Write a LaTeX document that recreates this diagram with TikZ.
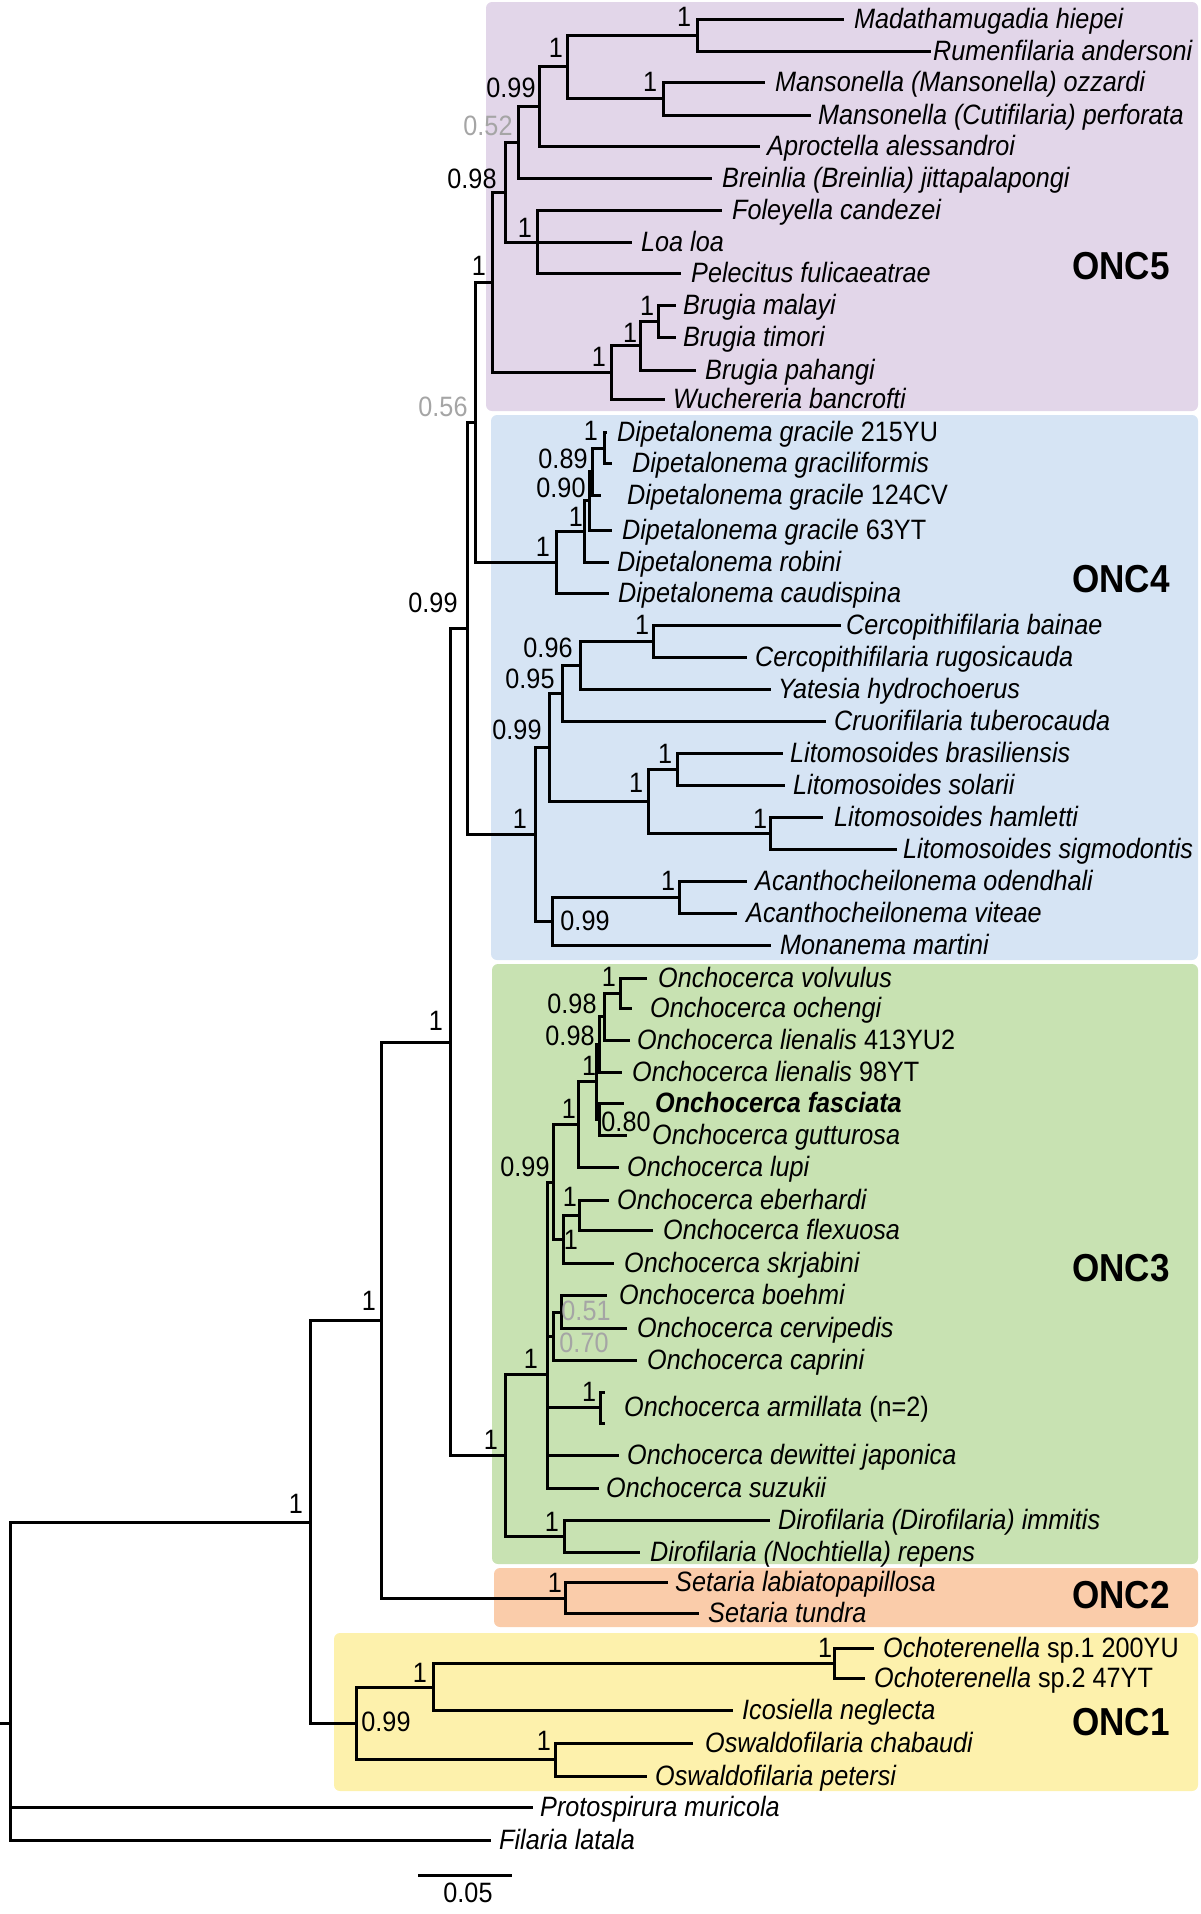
\documentclass[tikz,border=0pt]{standalone}
\usepackage{fontspec}
\setmainfont{Liberation Sans}[FakeStretch=0.9]
\usetikzlibrary{positioning}

\definecolor{oncfive}{RGB}{226,214,233}
\definecolor{oncfour}{RGB}{214,228,244}
\definecolor{oncthree}{RGB}{200,226,178}
\definecolor{onctwo}{RGB}{250,204,170}
\definecolor{oncone}{RGB}{253,241,172}
\definecolor{weakgrey}{RGB}{165,165,165}

\tikzset{
  branch/.style={line width=3pt},
  taxon/.style={anchor=base west, inner sep=0pt, yshift=-9pt, font=\fontsize{28}{30}\selectfont\itshape},
  support/.style={inner sep=0pt, font=\fontsize{28}{30}\selectfont},
  weak/.style={support, text=weakgrey},
  clade/.style={rounded corners=6pt},
  cladename/.style={anchor=east, inner sep=0pt, font=\fontsize{39}{40}\selectfont\bfseries}
}

\begin{document}
\begin{tikzpicture}[x=1pt, y=-1pt]
\useasboundingbox (0,0) rectangle (1200,1914);

% Clade boxes
\fill[oncfive, clade] (486,2) rectangle (1198,411);
\fill[oncfour, clade] (491,415) rectangle (1198,960);
\fill[oncthree, clade] (492,964) rectangle (1198,1564);
\fill[onctwo, clade] (494,1568) rectangle (1198,1627);
\fill[oncone, clade] (334,1633) rectangle (1198,1791);

\node[cladename] (onc5) at (1170,266) {ONC5};
\node[cladename] (onc4) at (1170,579) {ONC4};
\node[cladename] (onc3) at (1170,1268) {ONC3};
\node[cladename] (onc2) at (1170,1595) {ONC2};
\node[cladename] (onc1) at (1170,1722) {ONC1};

% ONC5 taxa
\coordinate (madat) at (844,19);  \node[taxon] (madat-t) at (854,19) {Madathamugadia hiepei};
\coordinate (rumen) at (931,51);  \node[taxon] (rumen-t) at (933,51) {Rumenfilaria andersoni};
\coordinate (mozz) at (765,82);   \node[taxon] (mozz-t) at (775,82) {Mansonella (Mansonella) ozzardi};
\coordinate (mperf) at (811,115); \node[taxon] (mperf-t) at (818,115) {Mansonella (Cutifilaria) perforata};
\coordinate (aproc) at (760,146); \node[taxon] (aproc-t) at (767,146) {Aproctella alessandroi};
\coordinate (brein) at (712,178); \node[taxon] (brein-t) at (722,178) {Breinlia (Breinlia) jittapalapongi};
\coordinate (foley) at (722,210); \node[taxon] (foley-t) at (732,210) {Foleyella candezei};
\coordinate (loa) at (632,242);   \node[taxon] (loa-t) at (641,242) {Loa loa};
\coordinate (pelec) at (681,273); \node[taxon] (pelec-t) at (691,273) {Pelecitus fulicaeatrae};
\coordinate (bmal) at (676,305);  \node[taxon] (bmal-t) at (683,305) {Brugia malayi};
\coordinate (btim) at (676,337);  \node[taxon] (btim-t) at (683,337) {Brugia timori};
\coordinate (bpah) at (696,370);  \node[taxon] (bpah-t) at (705,370) {Brugia pahangi};
\coordinate (wuch) at (665,399);  \node[taxon] (wuch-t) at (673,399) {Wuchereria bancrofti};

% ONC4 taxa
\coordinate (dg215) at (607,432); \node[taxon] (dg215-t) at (617,432) {Dipetalonema gracile \textup{215YU}};
\coordinate (dgfm) at (612,463);  \node[taxon] (dgfm-t) at (632,463) {Dipetalonema graciliformis};
\coordinate (dg124) at (601,495); \node[taxon] (dg124-t) at (627,495) {Dipetalonema gracile \textup{124CV}};
\coordinate (dg63) at (612,530);  \node[taxon] (dg63-t) at (622,530) {Dipetalonema gracile \textup{63YT}};
\coordinate (drob) at (609,562);  \node[taxon] (drob-t) at (617,562) {Dipetalonema robini};
\coordinate (dcau) at (609,593);  \node[taxon] (dcau-t) at (618,593) {Dipetalonema caudispina};
\coordinate (cbai) at (841,625);  \node[taxon] (cbai-t) at (846,625) {Cercopithifilaria bainae};
\coordinate (crug) at (747,657);  \node[taxon] (crug-t) at (755,657) {Cercopithifilaria rugosicauda};
\coordinate (yhyd) at (771,689);  \node[taxon] (yhyd-t) at (778,689) {Yatesia hydrochoerus};
\coordinate (ctub) at (826,721);  \node[taxon] (ctub-t) at (834,721) {Cruorifilaria tuberocauda};
\coordinate (lbra) at (783,753);  \node[taxon] (lbra-t) at (790,753) {Litomosoides brasiliensis};
\coordinate (lsol) at (785,785);  \node[taxon] (lsol-t) at (793,785) {Litomosoides solarii};
\coordinate (lham) at (823,817);  \node[taxon] (lham-t) at (834,817) {Litomosoides hamletti};
\coordinate (lsig) at (897,849);  \node[taxon] (lsig-t) at (903,849) {Litomosoides sigmodontis};
\coordinate (aode) at (747,881);  \node[taxon] (aode-t) at (755,881) {Acanthocheilonema odendhali};
\coordinate (avit) at (737,913);  \node[taxon] (avit-t) at (746,913) {Acanthocheilonema viteae};
\coordinate (mmar) at (771,945);  \node[taxon] (mmar-t) at (780,945) {Monanema martini};

% ONC3 taxa
\coordinate (ovol) at (647,978);   \node[taxon] (ovol-t) at (658,978) {Onchocerca volvulus};
\coordinate (ooch) at (632,1008);  \node[taxon] (ooch-t) at (650,1008) {Onchocerca ochengi};
\coordinate (olie4) at (630,1040); \node[taxon] (olie4-t) at (637,1040) {Onchocerca lienalis \textup{413YU2}};
\coordinate (olie9) at (622,1072); \node[taxon] (olie9-t) at (632,1072) {Onchocerca lienalis \textup{98YT}};
\coordinate (ofas) at (624,1103);  \node[taxon] (ofas-t) at (655,1103) {\bfseries Onchocerca fasciata};
\coordinate (ogut) at (627,1135);  \node[taxon] (ogut-t) at (652,1135) {Onchocerca gutturosa};
\coordinate (olup) at (619,1167);  \node[taxon] (olup-t) at (627,1167) {Onchocerca lupi};
\coordinate (oebe) at (609,1200);  \node[taxon] (oebe-t) at (617,1200) {Onchocerca eberhardi};
\coordinate (oflx) at (653,1230);  \node[taxon] (oflx-t) at (663,1230) {Onchocerca flexuosa};
\coordinate (oskr) at (614,1263);  \node[taxon] (oskr-t) at (624,1263) {Onchocerca skrjabini};
\coordinate (oboe) at (607,1295);  \node[taxon] (oboe-t) at (619,1295) {Onchocerca boehmi};
\coordinate (ocer) at (627,1328);  \node[taxon] (ocer-t) at (637,1328) {Onchocerca cervipedis};
\coordinate (ocap) at (637,1360);  \node[taxon] (ocap-t) at (647,1360) {Onchocerca caprini};
\coordinate (oarma) at (605,1392);
\coordinate (oarmb) at (605,1423); \node[taxon] (oarm-t) at (624,1407) {Onchocerca armillata \textup{(n=2)}};
\coordinate (odew) at (619,1455);  \node[taxon] (odew-t) at (627,1455) {Onchocerca dewittei japonica};
\coordinate (osuz) at (599,1488);  \node[taxon] (osuz-t) at (606,1488) {Onchocerca suzukii};
\coordinate (dimm) at (770,1520);  \node[taxon] (dimm-t) at (778,1520) {Dirofilaria (Dirofilaria) immitis};
\coordinate (drep) at (640,1552);  \node[taxon] (drep-t) at (650,1552) {Dirofilaria (Nochtiella) repens};

% ONC2 and ONC1 taxa
\coordinate (slab) at (668,1582); \node[taxon] (slab-t) at (675,1582) {Setaria labiatopapillosa};
\coordinate (stun) at (699,1613); \node[taxon] (stun-t) at (708,1613) {Setaria tundra};
\coordinate (ochA) at (874,1648); \node[taxon] (ochA-t) at (883,1648) {Ochoterenella \textup{sp.1 200YU}};
\coordinate (ochB) at (865,1678); \node[taxon] (ochB-t) at (874,1678) {Ochoterenella \textup{sp.2 47YT}};
\coordinate (ineg) at (733,1710); \node[taxon] (ineg-t) at (742,1710) {Icosiella neglecta};
\coordinate (ocha) at (693,1743); \node[taxon] (ocha-t) at (705,1743) {Oswaldofilaria chabaudi};
\coordinate (opet) at (647,1776); \node[taxon] (opet-t) at (655,1776) {Oswaldofilaria petersi};

% outgroups
\coordinate (pmur) at (533,1807); \node[taxon] (pmur-t) at (540,1807) {Protospirura muricola};
\coordinate (flat) at (491,1840); \node[taxon] (flat-t) at (499,1840) {Filaria latala};

% internal nodes
\coordinate (nA) at (697,35);
\coordinate (nB) at (663,98.5);
\coordinate (nC) at (567,66.7);
\coordinate (nD) at (539,106);
\coordinate (nE) at (518,142);
\coordinate (nG) at (537,242);
\coordinate (nF) at (505,192);
\coordinate (nBr1) at (658,321);
\coordinate (nBr2) at (640,345.5);
\coordinate (nBr3) at (611,372);
\coordinate (nH) at (492,282);
\coordinate (ng1) at (604,448);
\coordinate (ng2) at (592,471);
\coordinate (ng3) at (589,500);
\coordinate (ng4) at (584,531);
\coordinate (ng5) at (556,562);
\coordinate (nK) at (475,422);
\coordinate (nCe) at (653,641);
\coordinate (nY) at (580,665);
\coordinate (nCr) at (562,693);
\coordinate (nLi1) at (677,769);
\coordinate (nLi2) at (770,833);
\coordinate (nLi3) at (648,801);
\coordinate (nLi4) at (549,747);
\coordinate (nAc) at (679,897);
\coordinate (nMo) at (552,921);
\coordinate (nLi5) at (535,834);
\coordinate (nL) at (467,628);
\coordinate (nOv) at (620,993);
\coordinate (nOv2) at (604,1016);
\coordinate (nOv3) at (599,1044);
\coordinate (nFa) at (599,1119);
\coordinate (nOv4) at (596,1081);
\coordinate (nLu) at (578,1124);
\coordinate (nEb1) at (579,1215);
\coordinate (nEb2) at (563,1239);
\coordinate (nEb3) at (553,1182);
\coordinate (nBo1) at (561,1312);
\coordinate (nBo2) at (553,1336);
\coordinate (nAr) at (600,1407);
\coordinate (nOn) at (547,1374);
\coordinate (nDi) at (564,1536);
\coordinate (nON3) at (505,1455);
\coordinate (nM) at (450,1042);
\coordinate (nS) at (565,1598);
\coordinate (nN) at (381,1320);
\coordinate (nOc) at (834,1663);
\coordinate (nIc) at (433,1687);
\coordinate (nOs) at (555,1759);
\coordinate (nOR) at (356,1723);
\coordinate (nO) at (310,1522);
\coordinate (root) at (10,1723);
\coordinate (stem) at (0,1723);

% branches
\draw[branch] (nA) |- (madat) (nA) |- (rumen);
\draw[branch] (nB) |- (mozz) (nB) |- (mperf);
\draw[branch] (nC) |- (nA) (nC) |- (nB);
\draw[branch] (nD) |- (nC) (nD) |- (aproc);
\draw[branch] (nE) |- (nD) (nE) |- (brein);
\draw[branch] (nG) |- (foley) (nG) |- (loa) (nG) |- (pelec);
\draw[branch] (nF) |- (nE) (nF) |- (nG);
\draw[branch] (nBr1) |- (bmal) (nBr1) |- (btim);
\draw[branch] (nBr2) |- (nBr1) (nBr2) |- (bpah);
\draw[branch] (nBr3) |- (nBr2) (nBr3) |- (wuch);
\draw[branch] (nH) |- (nF) (nH) |- (nBr3);
\draw[branch] (ng1) |- (dg215) (ng1) |- (dgfm);
\draw[branch] (ng2) |- (ng1) (ng2) |- (dg124);
\draw[branch] (ng3) |- (ng2) (ng3) |- (dg63);
\draw[branch] (ng4) |- (ng3) (ng4) |- (drob);
\draw[branch] (ng5) |- (ng4) (ng5) |- (dcau);
\draw[branch] (nK) |- (nH) (nK) |- (ng5);
\draw[branch] (nCe) |- (cbai) (nCe) |- (crug);
\draw[branch] (nY) |- (nCe) (nY) |- (yhyd);
\draw[branch] (nCr) |- (nY) (nCr) |- (ctub);
\draw[branch] (nLi1) |- (lbra) (nLi1) |- (lsol);
\draw[branch] (nLi2) |- (lham) (nLi2) |- (lsig);
\draw[branch] (nLi3) |- (nLi1) (nLi3) |- (nLi2);
\draw[branch] (nLi4) |- (nCr) (nLi4) |- (nLi3);
\draw[branch] (nAc) |- (aode) (nAc) |- (avit);
\draw[branch] (nMo) |- (nAc) (nMo) |- (mmar);
\draw[branch] (nLi5) |- (nLi4) (nLi5) |- (nMo);
\draw[branch] (nL) |- (nK) (nL) |- (nLi5);
\draw[branch] (nOv) |- (ovol) (nOv) |- (ooch);
\draw[branch] (nOv2) |- (nOv) (nOv2) |- (olie4);
\draw[branch] (nOv3) |- (nOv2) (nOv3) |- (olie9);
\draw[branch] (nFa) |- (ofas) (nFa) |- (ogut);
\draw[branch] (nOv4) |- (nOv3) (nOv4) |- (nFa);
\draw[branch] (nLu) |- (nOv4) (nLu) |- (olup);
\draw[branch] (nEb1) |- (oebe) (nEb1) |- (oflx);
\draw[branch] (nEb2) |- (nEb1) (nEb2) |- (oskr);
\draw[branch] (nEb3) |- (nLu) (nEb3) |- (nEb2);
\draw[branch] (nBo1) |- (oboe) (nBo1) |- (ocer);
\draw[branch] (nBo2) |- (nBo1) (nBo2) |- (ocap);
\draw[branch] (nAr) |- (oarma) (nAr) |- (oarmb);
\draw[branch] (nOn) |- (nEb3) (nOn) |- (nBo2) (nOn) |- (nAr) (nOn) |- (odew) (nOn) |- (osuz);
\draw[branch] (nDi) |- (dimm) (nDi) |- (drep);
\draw[branch] (nON3) |- (nOn) (nON3) |- (nDi);
\draw[branch] (nM) |- (nL) (nM) |- (nON3);
\draw[branch] (nS) |- (slab) (nS) |- (stun);
\draw[branch] (nN) |- (nM) (nN) |- (nS);
\draw[branch] (nOc) |- (ochA) (nOc) |- (ochB);
\draw[branch] (nIc) |- (nOc) (nIc) |- (ineg);
\draw[branch] (nOs) |- (ocha) (nOs) |- (opet);
\draw[branch] (nOR) |- (nIc) (nOR) |- (nOs);
\draw[branch] (nO) |- (nN) (nO) |- (nOR);
\draw[branch] (stem) -- (root);
\draw[branch] (root) |- (nO) (root) |- (pmur) (root) |- (flat);

% support values
\node[support] (sA) at (684,17) {1};
\node[support] (sB) at (650,82) {1};
\node[support] (sC) at (556,48) {1};
\node[support] (sD) at (511,88) {0.99};
\node[weak] (sE) at (488,126) {0.52};
\node[support] (sF) at (472,179) {0.98};
\node[support] (sG) at (525,228) {1};
\node[support] (sBr1) at (647,306) {1};
\node[support] (sBr2) at (630,333) {1};
\node[support] (sBr3) at (599,357) {1};
\node[support] (sH) at (479,266) {1};
\node[weak] (sK) at (443,407) {0.56};
\node[support] (sg1) at (591,431) {1};
\node[support] (sg2) at (563,459) {0.89};
\node[support] (sg3) at (561,488) {0.90};
\node[support] (sg4) at (576,517) {1};
\node[support] (sg5) at (543,547) {1};
\node[support] (sCe) at (642,625) {1};
\node[support] (sY) at (548,648) {0.96};
\node[support] (sCr) at (530,679) {0.95};
\node[support] (sLi1) at (665,754) {1};
\node[support] (sLi2) at (760,819) {1};
\node[support] (sLi3) at (636,783) {1};
\node[support] (sLi4) at (517,730) {0.99};
\node[support] (sAc) at (668,881) {1};
\node[support] (sMo) at (585,921) {0.99};
\node[support] (sLi5) at (520,819) {1};
\node[support] (sL) at (433,603) {0.99};
\node[support] (sOv) at (609,977) {1};
\node[support] (sOv2) at (572,1004) {0.98};
\node[support] (sOv3) at (570,1036) {0.98};
\node[support] (sOv4) at (589,1066) {1};
\node[support] (sFa) at (626,1122) {0.80};
\node[support] (sLu) at (569,1109) {1};
\node[support] (sEb3) at (525,1167) {0.99};
\node[support] (sEb1) at (570,1197) {1};
\node[support] (sEb2) at (571,1240) {1};
\node[weak] (sBo1) at (586,1311) {0.51};
\node[weak] (sBo2) at (584,1343) {0.70};
\node[support] (sAr) at (589,1392) {1};
\node[support] (sOn) at (531,1359) {1};
\node[support] (sDi) at (552,1522) {1};
\node[support] (sON3) at (491,1440) {1};
\node[support] (sM) at (436,1021) {1};
\node[support] (sS) at (555,1583) {1};
\node[support] (sN) at (369,1301) {1};
\node[support] (sOc) at (825,1648) {1};
\node[support] (sIc) at (420,1673) {1};
\node[support] (sOs) at (544,1741) {1};
\node[support] (sOR) at (386,1722) {0.99};
\node[support] (sO) at (296,1504) {1};

% scale bar
\coordinate (sbl) at (418,1875);
\coordinate (sbr) at (512,1875);
\draw[branch] (sbl) -- (sbr);
\node[support] (sbar) at (468,1893) {0.05};
\end{tikzpicture}
\end{document}
